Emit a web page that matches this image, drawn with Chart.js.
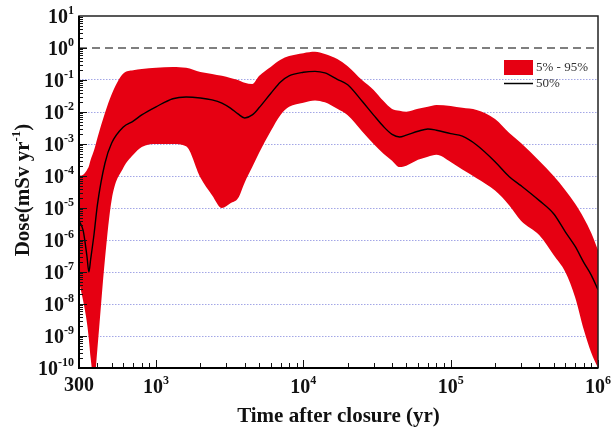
<!DOCTYPE html>
<html>
<head>
<meta charset="utf-8">
<script src="https://cdn.jsdelivr.net/npm/chart.js@4.4.1/dist/chart.umd.min.js"></script>
<style>
  html, body { margin: 0; padding: 0; background: #fff; }
  #wrap { width: 611px; height: 430px; }
</style>
</head>
<body>
<div id="wrap"><canvas id="doseChart" width="611" height="430"></canvas></div>
<script>
// time after closure (yr)
const times = [300, 320, 340, 350, 360, 380, 400, 450, 500, 600, 700, 800, 1000, 1300, 1600,
  2000, 2400, 2800, 3200, 3600, 4000, 4500, 5000, 6000, 7000, 8000, 10000, 12000, 14000, 17000,
  20000, 25000, 30000, 35000, 40000, 45000, 50000, 60000, 70000, 80000, 100000, 120000, 150000,
  200000, 250000, 300000, 400000, 500000, 600000, 700000, 800000, 900000, 1000000];

// dose (mSv/yr), 95th percentile
const upper95 = [1.0e-4, 1.1e-4, 1.55e-4, 2.0e-4, 3.2e-4, 6.5e-4, 1.55e-3, 9.3e-3, 3.6e-2, 0.16, 0.2, 0.219, 0.24, 0.257, 0.24,
  0.178, 0.155, 0.135, 0.115, 0.1, 0.082, 0.075, 0.134, 0.257, 0.43, 0.56, 0.69, 0.76, 0.645, 0.45,
  0.27, 0.1, 0.049, 0.022, 0.0125, 0.011, 0.0102, 0.0126, 0.0145, 0.0166, 0.0155, 0.0135, 0.0115,
  6.0e-3, 2.2e-3, 1.07e-3, 2.95e-4, 1.0e-4, 3.6e-5, 1.35e-5, 4.9e-6, 1.66e-6, 4.9e-7];

// median
const median50 = [4.0e-6, 2.0e-6, 3.0e-7, 1.0e-7, 2.5e-7, 1.6e-6, 1.26e-5, 2.5e-4, 1.07e-3, 3.4e-3, 5.2e-3, 8.1e-3, 0.0145, 0.026, 0.0295,
  0.0275, 0.024, 0.019, 0.0132, 8.7e-3, 6.5e-3, 8.1e-3, 0.0135, 0.038, 0.087, 0.135, 0.174, 0.186, 0.166, 0.105,
  0.071, 0.022, 8.0e-3, 3.5e-3, 2.0e-3, 1.66e-3, 1.9e-3, 2.5e-3, 2.95e-3, 2.7e-3, 2.1e-3, 1.75e-3, 9.3e-4,
  2.8e-4, 9.5e-5, 5.0e-5, 1.7e-5, 6.6e-6, 1.8e-6, 6.3e-7, 2.0e-7, 8.0e-8, 2.8e-8];

// 5th percentile
const lower5 = [5.0e-8, 1.26e-8, 2.5e-9, 8.0e-10, 2.0e-10, 4.0e-11, 4.0e-10, 2.5e-7, 1.8e-5, 1.8e-4, 4.6e-4, 8.0e-4, 1.0e-3, 1.0e-3, 8.5e-4,
  8.9e-5, 2.5e-5, 1.0e-5, 1.4e-5, 2.0e-5, 6.3e-5, 1.9e-4, 5.2e-4, 2.5e-3, 8.1e-3, 0.0145, 0.0195, 0.023, 0.02, 0.0126,
  7.9e-3, 2.5e-3, 1.0e-3, 5.0e-4, 3.0e-4, 1.9e-4, 2.1e-4, 3.2e-4, 4.0e-4, 4.6e-4, 2.75e-4, 1.6e-4, 8.5e-5,
  3.5e-5, 1.2e-5, 4.0e-6, 1.4e-6, 3.4e-7, 1.0e-7, 1.6e-8, 1.6e-9, 3.0e-10, 1.0e-10];

const limitTimes = [300, 1000000];
const limitDose = [1, 1];

const xTickValues = [300, 1e3, 1e4, 1e5, 1e6];
const xTickExps = [null, 3, 4, 5, 6];
const yTickExps = [1, 0, -1, -2, -3, -4, -5, -6, -7, -8, -9, -10];

const bandLabel = '5% - 95%';
const medianLabel = '50%';

const RED = '#e60012';
const SERIF = '"Liberation Serif", "DejaVu Serif", serif';

function pts(xs, ys) { return xs.map((x, i) => ({ x: x, y: ys[i] })); }

// "10" with a raised exponent
function drawPow(ctx, base, exp, x, y, align, size) {
  const big = 'bold ' + size + 'px ' + SERIF;
  const small = 'bold ' + Math.round(size * 0.62) + 'px ' + SERIF;
  ctx.font = big;
  const wb = ctx.measureText(base).width;
  ctx.font = small;
  const we = exp === null ? 0 : ctx.measureText(exp).width;
  let x0 = x;
  if (align === 'right') x0 = x - wb - we;
  if (align === 'center') x0 = x - (wb + we) / 2;
  ctx.textAlign = 'left';
  ctx.textBaseline = 'alphabetic';
  ctx.font = big;
  ctx.fillText(base, x0, y);
  if (exp !== null) {
    ctx.font = small;
    ctx.fillText(exp, x0 + wb, y - size * 0.45);
  }
}

const decor = {
  id: 'decor',
  afterDraw(chart) {
    const ctx = chart.ctx;
    const a = chart.chartArea;
    const xs = chart.scales.x, ys = chart.scales.y;
    ctx.save();
    ctx.fillStyle = '#111';
    ctx.strokeStyle = '#111';

    // minor/major ticks inside the frame
    ctx.lineWidth = 1;
    ctx.beginPath();
    for (let d = 2; d <= 6; d++) {
      for (let m = 1; m <= 9; m++) {
        const v = m * Math.pow(10, d);
        if (v < 300 || v > 1e6) continue;
        const px = Math.round(xs.getPixelForValue(v)) + 0.5;
        const len = m === 1 ? 8 : 5;
        ctx.moveTo(px, a.bottom);
        ctx.lineTo(px, a.bottom - len);
      }
    }
    for (let d = -10; d <= 0; d++) {
      for (let m = 1; m <= 9; m++) {
        const v = m * Math.pow(10, d);
        const py = Math.round(ys.getPixelForValue(v)) + 0.5;
        const len = m === 1 ? 8 : 4;
        ctx.moveTo(a.left, py);
        ctx.lineTo(a.left + len, py);
      }
    }
    ctx.stroke();

    // frame
    ctx.lineWidth = 1.5;
    ctx.strokeStyle = '#222';
    ctx.strokeRect(a.left, a.top, a.right - a.left, a.bottom - a.top);
    ctx.lineWidth = 2;
    ctx.strokeStyle = '#000';
    ctx.beginPath();
    ctx.moveTo(a.left, a.top);
    ctx.lineTo(a.left, a.bottom);
    ctx.lineTo(a.right, a.bottom);
    ctx.stroke();

    // tick labels
    yTickExps.forEach(e => {
      const py = ys.getPixelForValue(Math.pow(10, e));
      drawPow(ctx, '10', String(e), a.left - 5, py + 7, 'right', 20);
    });
    xTickValues.forEach((v, i) => {
      const px = xs.getPixelForValue(v);
      const e = xTickExps[i];
      if (e === null) drawPow(ctx, '300', null, px, 391, 'center', 20);
      else drawPow(ctx, '10', String(e), px, 393, 'center', 20);
    });

    // axis titles
    ctx.font = 'bold 21px ' + SERIF;
    ctx.textAlign = 'center';
    ctx.textBaseline = 'alphabetic';
    ctx.fillText('Time after closure (yr)', (a.left + a.right) / 2, 422);

    ctx.save();
    ctx.translate(29, 190);
    ctx.rotate(-Math.PI / 2);
    const t1 = 'Dose(mSv yr', t2 = '-1', t3 = ')';
    ctx.font = 'bold 21px ' + SERIF;
    const w1 = ctx.measureText(t1).width, w3 = ctx.measureText(t3).width;
    ctx.font = 'bold 13px ' + SERIF;
    const w2 = ctx.measureText(t2).width;
    let sx = -(w1 + w2 + w3) / 2;
    ctx.textAlign = 'left';
    ctx.font = 'bold 21px ' + SERIF;
    ctx.fillText(t1, sx, 0);
    ctx.font = 'bold 13px ' + SERIF;
    ctx.fillText(t2, sx + w1, -9);
    ctx.font = 'bold 21px ' + SERIF;
    ctx.fillText(t3, sx + w1 + w2, 0);
    ctx.restore();

    // legend
    const lx = a.right - 94, ly = a.top + 44;
    ctx.fillStyle = chart.data.datasets[0].backgroundColor;
    ctx.fillRect(lx, ly, 29, 15);
    ctx.strokeStyle = chart.data.datasets[2].borderColor;
    ctx.lineWidth = 1.5;
    ctx.beginPath();
    ctx.moveTo(lx, ly + 23.5);
    ctx.lineTo(lx + 29, ly + 23.5);
    ctx.stroke();
    ctx.fillStyle = '#333';
    ctx.font = '13px ' + SERIF;
    ctx.textAlign = 'left';
    ctx.textBaseline = 'middle';
    ctx.fillText(chart.data.datasets[0].label, lx + 32, ly + 8);
    ctx.fillText(chart.data.datasets[2].label, lx + 32, ly + 24);
    ctx.restore();
  }
};

new Chart(document.getElementById('doseChart'), {
  type: 'line',
  data: {
    datasets: [
      {
        label: bandLabel,
        data: pts(times, upper95),
        backgroundColor: RED,
        borderWidth: 0,
        pointRadius: 0,
        fill: '+1',
        order: 3,
        cubicInterpolationMode: 'monotone'
      },
      {
        label: 'lower',
        data: pts(times, lower5),
        borderWidth: 0,
        pointRadius: 0,
        fill: false,
        order: 3,
        cubicInterpolationMode: 'monotone'
      },
      {
        label: medianLabel,
        data: pts(times, median50),
        borderColor: '#000',
        borderWidth: 1.4,
        pointRadius: 0,
        fill: false,
        order: 1,
        cubicInterpolationMode: 'monotone'
      },
      {
        label: 'limit',
        data: pts(limitTimes, limitDose),
        borderColor: '#555',
        borderWidth: 1.6,
        borderDash: [8, 5],
        pointRadius: 0,
        fill: false,
        order: 0
      }
    ]
  },
  options: {
    responsive: false,
    animation: false,
    layout: { padding: { top: 16, right: 13, left: 0, bottom: 0 } },
    plugins: { legend: { display: false }, tooltip: { enabled: false } },
    scales: {
      x: {
        type: 'logarithmic',
        min: 300,
        max: 1e6,
        afterFit: s => { s.height = 62; },
        ticks: { display: false },
        grid: { display: false },
        border: { display: false }
      },
      y: {
        type: 'logarithmic',
        min: 1e-10,
        max: 10,
        afterFit: s => { s.width = 79; },
        afterBuildTicks: s => { s.ticks = yTickExps.map(e => ({ value: Math.pow(10, e) })); },
        ticks: { display: false },
        grid: {
          drawTicks: false,
          lineWidth: 1,
          color: c => (c.tick && c.tick.value < 0.5 && c.tick.value > 5e-10) ? '#a3a6e6' : 'rgba(0,0,0,0)'
        },
        border: { display: false, dash: [1.5, 1.5] }
      }
    }
  },
  plugins: [decor]
});
</script>
</body>
</html>
